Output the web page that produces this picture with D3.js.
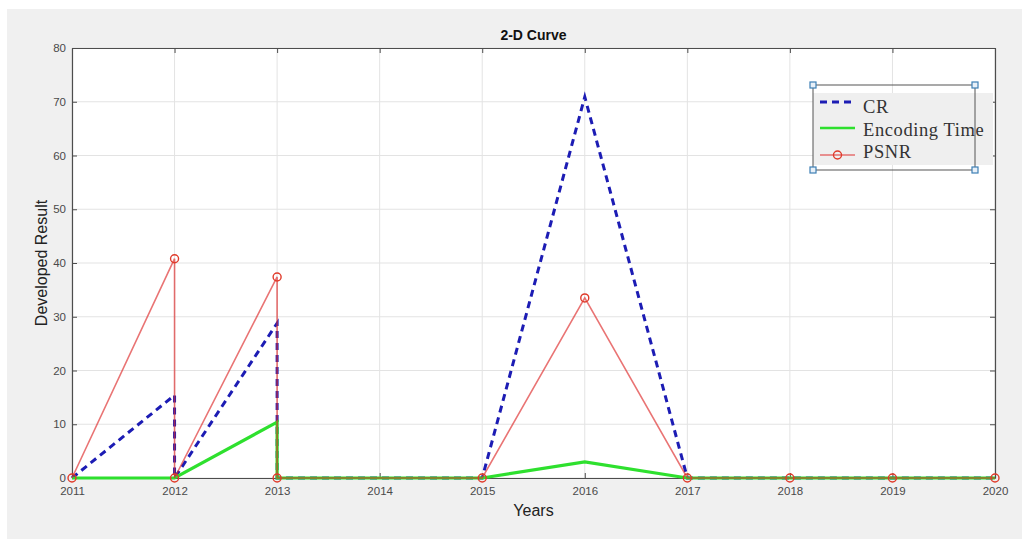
<!DOCTYPE html>
<html><head><meta charset="utf-8">
<script src="https://cdn.jsdelivr.net/npm/d3@7"></script>
<style>html,body{margin:0;padding:0;background:#fff;}svg{display:block;}</style>
</head><body>
<svg id="c" width="1022" height="539"></svg>
<script>
const years = [2011, 2012, 2012, 2013, 2013, 2015, 2016, 2017, 2018, 2019, 2020];
const crValues = [0, 15.4, 0, 28.8, 0, 0, 70.9, 0, 0, 0, 0];
const encValues = [0, 0, 0, 10.4, 0, 0, 3.0, 0, 0, 0, 0];
const psnrValues = [0, 40.8, 0, 37.4, 0, 0, 33.5, 0, 0, 0, 0];
const xTicks = [2011, 2012, 2013, 2014, 2015, 2016, 2017, 2018, 2019, 2020];
const yTicks = [0, 10, 20, 30, 40, 50, 60, 70, 80];
const seriesNames = ["CR", "Encoding Time", "PSNR"];

const svg = d3.select("#c");
const L = 72, R = 995, T = 48, B = 478;
svg.append("rect").attr("x", 7).attr("y", 9).attr("width", 1015).attr("height", 530).attr("fill", "#f0f0f0");
svg.append("rect").attr("x", L).attr("y", T).attr("width", R - L).attr("height", B - T).attr("fill", "#fff");

const x = d3.scaleLinear().domain([2011, 2020]).range([L, R]);
const y = d3.scaleLinear().domain([0, 80]).range([B, T]);

// grid
svg.append("g").selectAll("line").data(xTicks).join("line")
  .attr("x1", d => x(d)).attr("x2", d => x(d)).attr("y1", T).attr("y2", B)
  .attr("stroke", "#e3e3e3").attr("stroke-width", 1);
svg.append("g").selectAll("line").data(yTicks).join("line")
  .attr("x1", L).attr("x2", R).attr("y1", d => y(d)).attr("y2", d => y(d))
  .attr("stroke", "#e3e3e3").attr("stroke-width", 1);

// axes
const fontAx = "'Liberation Sans', Arial, sans-serif";
const xAxis = svg.append("g").attr("transform", `translate(0,${B})`)
  .call(d3.axisBottom(x).tickValues(xTicks).tickFormat(d3.format("d")).tickSizeInner(-5).tickSizeOuter(0).tickPadding(9));
const xAxisT = svg.append("g").attr("transform", `translate(0,${T})`)
  .call(d3.axisTop(x).tickValues(xTicks).tickFormat("").tickSizeInner(-5).tickSizeOuter(0));
const yAxis = svg.append("g").attr("transform", `translate(${L},0)`)
  .call(d3.axisLeft(y).tickValues(yTicks).tickSizeInner(-5).tickSizeOuter(0).tickPadding(6));
const yAxisR = svg.append("g").attr("transform", `translate(${R},0)`)
  .call(d3.axisRight(y).tickValues(yTicks).tickFormat("").tickSizeInner(-5).tickSizeOuter(0));
[xAxis, xAxisT, yAxis, yAxisR].forEach(g => {
  g.select(".domain").attr("stroke", "#4d4d4d").attr("stroke-width", 1.2);
  g.selectAll(".tick line").attr("stroke", "#4d4d4d");
  g.selectAll("text").attr("fill", "#4a4a4a").style("font-family", fontAx).style("font-size", "11.5px");
});

// lines
const pts = vals => years.map((yr, i) => [yr, vals[i]]);
const line = d3.line().x(d => x(d[0])).y(d => y(d[1]));
svg.append("path").attr("d", line(pts(crValues))).attr("fill", "none")
  .attr("stroke", "#1c1cb4").attr("stroke-width", 3).attr("stroke-dasharray", "7,5");
svg.append("path").attr("d", line(pts(encValues))).attr("fill", "none")
  .attr("stroke", "#2ee02e").attr("stroke-width", 3.2);
svg.append("path").attr("d", line(pts(psnrValues))).attr("fill", "none")
  .attr("stroke", "#dd2a2a").attr("stroke-width", 1.6).attr("stroke-opacity", 0.65);
svg.append("g").selectAll("circle").data(pts(psnrValues)).join("circle")
  .attr("cx", d => x(d[0])).attr("cy", d => y(d[1])).attr("r", 4)
  .attr("fill", "none").attr("stroke", "#e03a2a").attr("stroke-width", 1.4);

// labels
svg.append("text").attr("x", (L + R) / 2).attr("y", 40).attr("text-anchor", "middle")
  .style("font-family", fontAx).style("font-size", "14px").style("font-weight", "bold").attr("fill", "#111").text("2-D Curve");
svg.append("text").attr("x", (L + R) / 2).attr("y", 516).attr("text-anchor", "middle")
  .style("font-family", fontAx).style("font-size", "16px").attr("fill", "#222").text("Years");
svg.append("text").attr("transform", `translate(47,${(T + B) / 2}) rotate(-90)`).attr("text-anchor", "middle")
  .style("font-family", fontAx).style("font-size", "16px").attr("fill", "#222").text("Developed Result");

// legend
const lg = svg.append("g");
lg.append("rect").attr("x", 813).attr("y", 93).attr("width", 180).attr("height", 72).attr("fill", "#efefef");
lg.append("rect").attr("x", 813).attr("y", 85).attr("width", 162).attr("height", 85)
  .attr("fill", "none").attr("stroke", "#555").attr("stroke-width", 1);
const legY = [102, 128, 155];
const legTextY = [113, 136, 158];
lg.append("line").attr("x1", 820).attr("x2", 855).attr("y1", legY[0]).attr("y2", legY[0])
  .attr("stroke", "#1c1cb4").attr("stroke-width", 3).attr("stroke-dasharray", "7,5");
lg.append("line").attr("x1", 820).attr("x2", 855).attr("y1", legY[1]).attr("y2", legY[1])
  .attr("stroke", "#2ee02e").attr("stroke-width", 2.5);
lg.append("line").attr("x1", 820).attr("x2", 855).attr("y1", legY[2]).attr("y2", legY[2])
  .attr("stroke", "#dd2a2a").attr("stroke-width", 1.5).attr("stroke-opacity", 0.65);
lg.append("circle").attr("cx", 837.5).attr("cy", legY[2]).attr("r", 4)
  .attr("fill", "none").attr("stroke", "#e03a2a").attr("stroke-width", 1.4);
lg.selectAll("text.l").data(seriesNames).join("text").attr("class", "l")
  .attr("x", 863).attr("y", (d, i) => legTextY[i])
  .style("font-family", "'Liberation Serif', serif").style("font-size", "18.5px")
  .style("letter-spacing", "0.6px").attr("fill", "#333").text(d => d);
const handles = [[813, 85], [975, 85], [813, 170], [975, 170]];
lg.selectAll("rect.h").data(handles).join("rect").attr("class", "h")
  .attr("x", d => d[0] - 3).attr("y", d => d[1] - 3).attr("width", 6).attr("height", 6)
  .attr("fill", "#e8f0f8").attr("stroke", "#3d7fb5").attr("stroke-width", 1.2);
</script>
</body></html>
